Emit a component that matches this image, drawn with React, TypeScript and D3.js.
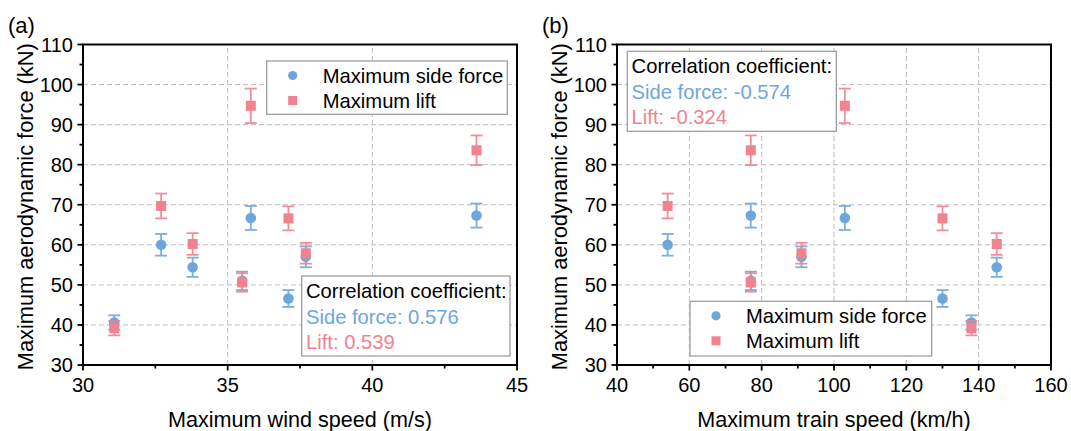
import React from "react";
import * as d3 from "d3";

// Data: eight cases, each with a wind speed, a train speed and two forces
const windSpeed = [31.08, 32.7, 33.79, 35.5, 35.8, 37.1, 37.7, 43.6];
const trainSpeed = [138, 54, 145, 77, 103, 130, 91, 77];
const sideForce = [40.6, 60.0, 54.4, 51.0, 66.7, 46.6, 57.0, 67.3];
const sideForceErr = [1.8, 2.7, 2.4, 2.3, 3.0, 2.1, 2.6, 3.0];
const liftForce = [39.2, 69.7, 60.2, 50.6, 94.7, 66.6, 57.9, 83.6];
const liftForceErr = [1.8, 3.1, 2.7, 2.3, 4.3, 3.0, 2.6, 3.7];

const yTicks = [30, 40, 50, 60, 70, 80, 90, 100, 110];
const yMinor = [35, 45, 55, 65, 75, 85, 95, 105];
const windTicks = [30, 35, 40, 45];
const windMinor = [32.5, 37.5, 42.5];
const trainTicks = [40, 60, 80, 100, 120, 140, 160];
const trainMinor = [50, 70, 90, 110, 130, 150];

const seriesNames = ["Maximum side force", "Maximum lift"];
const corrWind = ["0.576", "0.539"];
const corrTrain = ["-0.574", "-0.324"];

const BLUE = "#6EA6DC";
const RED = "#F0838E";
const FONT = "'Liberation Sans', Arial, Helvetica, sans-serif";

const yScale = d3.scaleLinear().domain([30, 110]).range([365, 44.5]);

type PanelProps = {
  label: string;
  xs: number[];
  xDomain: [number, number];
  xRange: [number, number];
  ticks: number[];
  minor: number[];
  xTitle: string;
  corr: string[];
  corrBox: { x: number; y: number; w: number; h: number };
  legendBox: { x: number; y: number; w: number; h: number };
};

function Panel(p: PanelProps) {
  const x = d3.scaleLinear().domain(p.xDomain).range(p.xRange);
  const [x0, x1] = p.xRange;
  const y0 = yScale(30);
  const y1 = yScale(110);
  const cx = (x0 + x1) / 2;

  const errBars = (vals: number[], errs: number[], color: string) =>
    vals.map((v, i) => {
      const px = x(p.xs[i]);
      const top = yScale(v + errs[i]);
      const bot = yScale(v - errs[i]);
      return (
        <g key={i} stroke={color} strokeWidth={1.8} opacity={0.9}>
          <line x1={px} x2={px} y1={top} y2={bot} />
          <line x1={px - 6} x2={px + 6} y1={top} y2={top} />
          <line x1={px - 6} x2={px + 6} y1={bot} y2={bot} />
        </g>
      );
    });

  const lb = p.legendBox;
  const cb = p.corrBox;

  return (
    <g fontFamily={FONT}>
      {/* grid */}
      {yTicks.slice(1, -1).map((t) => (
        <line key={"gy" + t} x1={x0} x2={x1} y1={yScale(t)} y2={yScale(t)} stroke="#BDBDBD" strokeWidth={1} strokeDasharray="5,3" />
      ))}
      {p.ticks.slice(1, -1).map((t) => (
        <line key={"gx" + t} x1={x(t)} x2={x(t)} y1={y0} y2={y1} stroke="#BDBDBD" strokeWidth={1} strokeDasharray="5,3" />
      ))}

      {/* side force */}
      {sideForce.map((v, i) => (
        <circle key={"c" + i} cx={x(p.xs[i])} cy={yScale(v)} r={5.3} fill={BLUE} />
      ))}
      {errBars(sideForce, sideForceErr, BLUE)}
      {/* lift */}
      {liftForce.map((v, i) => (
        <rect key={"r" + i} x={x(p.xs[i]) - 5} y={yScale(v) - 5} width={10} height={10} fill={RED} />
      ))}
      {errBars(liftForce, liftForceErr, RED)}

      {/* frame */}
      <rect x={x0} y={y1} width={x1 - x0} height={y0 - y1} fill="none" stroke="#000" strokeWidth={2} />

      {/* y ticks */}
      {yTicks.map((t) => (
        <g key={"yt" + t}>
          <line x1={x0 - 5.5} x2={x0} y1={yScale(t)} y2={yScale(t)} stroke="#000" strokeWidth={1.8} />
          <text x={x0 - 10} y={yScale(t) + 7.2} textAnchor="end" fontSize={20}>{t}</text>
        </g>
      ))}
      {yMinor.map((t) => (
        <line key={"ym" + t} x1={x0 - 3.5} x2={x0} y1={yScale(t)} y2={yScale(t)} stroke="#000" strokeWidth={1.8} />
      ))}
      {/* x ticks */}
      {p.ticks.map((t) => (
        <g key={"xt" + t}>
          <line x1={x(t)} x2={x(t)} y1={y0} y2={y0 + 5.5} stroke="#000" strokeWidth={1.8} />
          <text x={x(t)} y={392} textAnchor="middle" fontSize={20}>{t}</text>
        </g>
      ))}
      {p.minor.map((t) => (
        <line key={"xm" + t} x1={x(t)} x2={x(t)} y1={y0} y2={y0 + 3.5} stroke="#000" strokeWidth={1.8} />
      ))}

      {/* titles */}
      <text x={cx} y={427} textAnchor="middle" fontSize={21.6}>{p.xTitle}</text>
      <text transform={`translate(${x0 - 50.5},${(y0 + y1) / 2 + 2}) rotate(-90)`} textAnchor="middle" fontSize={21.8}>
        Maximum aerodynamic force (kN)
      </text>
      <text x={x0 - 75} y={33} fontSize={22}>{p.label}</text>

      {/* legend */}
      <rect x={lb.x} y={lb.y} width={lb.w} height={lb.h} fill="#fff" stroke="#9E9E9E" strokeWidth={1.3} />
      <circle cx={lb.x + 26} cy={lb.y + 14.5} r={4.6} fill={BLUE} />
      <rect x={lb.x + 21.5} y={lb.y + 35} width={9} height={9} fill={RED} />
      <text x={lb.x + 56} y={lb.y + 21.5} fontSize={20.2}>{seriesNames[0]}</text>
      <text x={lb.x + 56} y={lb.y + 47} fontSize={20.2}>{seriesNames[1]}</text>

      {/* correlation box */}
      <rect x={cb.x} y={cb.y} width={cb.w} height={cb.h} fill="#fff" stroke="#9E9E9E" strokeWidth={1.3} />
      <text x={cb.x + 4.3} y={cb.y + 22} fontSize={20.2}>Correlation coefficient:</text>
      <text x={cb.x + 4.3} y={cb.y + 47.5} fontSize={20.2} fill={BLUE}>{"Side force: " + p.corr[0]}</text>
      <text x={cb.x + 4.3} y={cb.y + 73} fontSize={20.2} fill={RED}>{"Lift: " + p.corr[1]}</text>
    </g>
  );
}

export default function App() {
  return (
    <svg width={1071} height={431} style={{ position: "absolute", left: 0, top: 0, background: "#fff" }}>
      <rect width={1071} height={431} fill="#fff" />
      <Panel
        label="(a)"
        xs={windSpeed}
        xDomain={[30, 45]}
        xRange={[83, 517]}
        ticks={windTicks}
        minor={windMinor}
        xTitle="Maximum wind speed (m/s)"
        corr={corrWind}
        legendBox={{ x: 266.7, y: 61, w: 240.6, h: 53.3 }}
        corrBox={{ x: 301.7, y: 276, w: 208.3, h: 80 }}
      />
      <Panel
        label="(b)"
        xs={trainSpeed}
        xDomain={[40, 160]}
        xRange={[617, 1051]}
        ticks={trainTicks}
        minor={trainMinor}
        xTitle="Maximum train speed (km/h)"
        corr={corrTrain}
        legendBox={{ x: 690, y: 301.3, w: 241.7, h: 54.7 }}
        corrBox={{ x: 627.3, y: 51.3, w: 209, h: 80 }}
      />
    </svg>
  );
}
